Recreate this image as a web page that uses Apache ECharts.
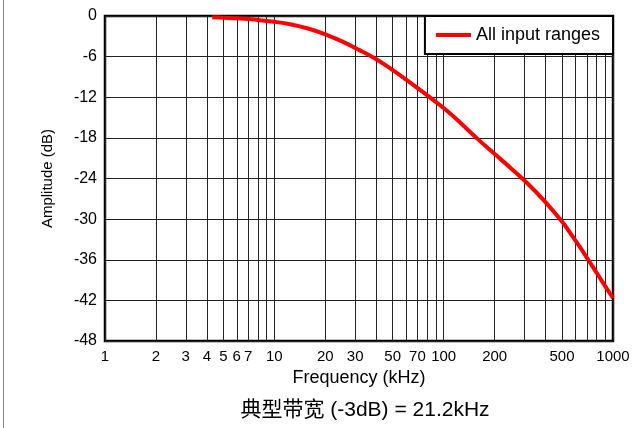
<!DOCTYPE html>
<html>
<head>
<meta charset="utf-8">
<script src="https://cdn.jsdelivr.net/npm/echarts@6/dist/echarts.min.js"></script>
<style>
  html, body { margin: 0; padding: 0; background: #fff; }
  #chart { width: 636px; height: 428px; }
</style>
</head>
<body>
<div id="chart"></div>
<script>
// Frequency response of the input filter (same for every input range)
const freqKHz = [4.3, 5, 6.3, 7.9, 10, 12.6, 15.8, 20, 25.1, 31.6, 39.8, 50.1, 63.1, 79.4,
                 100, 125.9, 158.5, 199.5, 251.2, 316.2, 398.1, 501.2, 562.3, 631, 707.9, 794.3, 891.3, 1000];
const ampDB   = [-0.2, -0.26, -0.38, -0.57, -0.85, -1.25, -1.85, -2.7, -3.75, -5.0, -6.35, -8.0, -9.8, -11.65,
                 -13.6, -15.8, -18.15, -20.35, -22.55, -24.85, -27.45, -30.4, -32.15, -33.95, -35.85, -37.8, -39.75, -41.65];

// Grid lines at every 1..9 step of each decade
const gridFreqs = [1, 2, 3, 4, 5, 6, 7, 8, 9, 10, 20, 30, 40, 50, 60, 70, 80, 90, 100, 200, 300, 400, 500, 600, 700, 800, 900, 1000];
// Frequencies that carry a label
const freqLabels = [1, 2, 3, 4, 5, 6, 7, 10, 20, 30, 50, 70, 100, 200, 500, 1000];

const seriesName = 'All input ranges';
const caption = '典型带宽 (-3dB) = 21.2kHz';
const FONT = '"Liberation Sans", Arial, "Noto Sans CJK SC", sans-serif';

const chart = echarts.init(document.getElementById('chart'), null, { renderer: 'canvas' });

chart.setOption({
  animation: false,
  backgroundColor: '#fff',
  textStyle: { fontFamily: FONT },
  grid: {
    left: 105, right: 23, top: 16, bottom: 87,
    show: true, borderColor: '#000', borderWidth: 2.5, backgroundColor: 'transparent'
  },
  legend: {
    data: [seriesName],
    top: 16, right: 23,
    orient: 'horizontal',
    icon: 'rect',
    itemWidth: 35, itemHeight: 4,
    itemGap: 10,
    padding: [10, 13, 10, 11],
    backgroundColor: '#fff',
    borderColor: '#000', borderWidth: 2,
    borderRadius: 0,
    textStyle: { fontFamily: FONT, fontSize: 18, color: '#000' }
  },
  xAxis: {
    type: 'log', logBase: 10, min: 1, max: 1000,
    name: 'Frequency (kHz)', nameLocation: 'middle', nameGap: 28,
    nameTextStyle: { fontFamily: FONT, fontSize: 18, color: '#000' },
    axisLine: { show: false },
    axisTick: { show: false, customValues: gridFreqs },
    minorTick: { show: false },
    axisLabel: {
      customValues: freqLabels, margin: 8,
      fontFamily: FONT, fontSize: 15, color: '#000',
      formatter: v => String(Math.round(v))
    },
    splitLine: { show: true, lineStyle: { color: '#222', width: 1 } }
  },
  yAxis: {
    type: 'value', min: -48, max: 0, interval: 6,
    name: 'Amplitude (dB)', nameLocation: 'middle', nameGap: 50,
    nameTextStyle: { fontFamily: FONT, fontSize: 15, color: '#000' },
    axisLine: { show: false },
    axisTick: { show: false },
    axisLabel: { margin: 8, fontFamily: FONT, fontSize: 16, color: '#000' },
    splitLine: { show: true, lineStyle: { color: '#222', width: 1 } }
  },
  series: [{
    name: seriesName,
    type: 'line',
    data: freqKHz.map((f, i) => [f, ampDB[i]]),
    smooth: 0.4,
    symbol: 'none',
    color: '#ff0000',
    lineStyle: { color: '#ff0000', width: 4 },
    z: 5
  }],
  graphic: [
    {
      type: 'line',
      shape: { x1: 3.5, y1: 0, x2: 3.5, y2: 428 },
      style: { stroke: '#888', lineWidth: 1 }
    },
    {
      type: 'text',
      x: 365, y: 410,
      style: {
        text: caption,
        fontFamily: FONT, fontSize: 21, fill: '#000',
        textAlign: 'center', textVerticalAlign: 'middle'
      }
    }
  ]
});
</script>
</body>
</html>
